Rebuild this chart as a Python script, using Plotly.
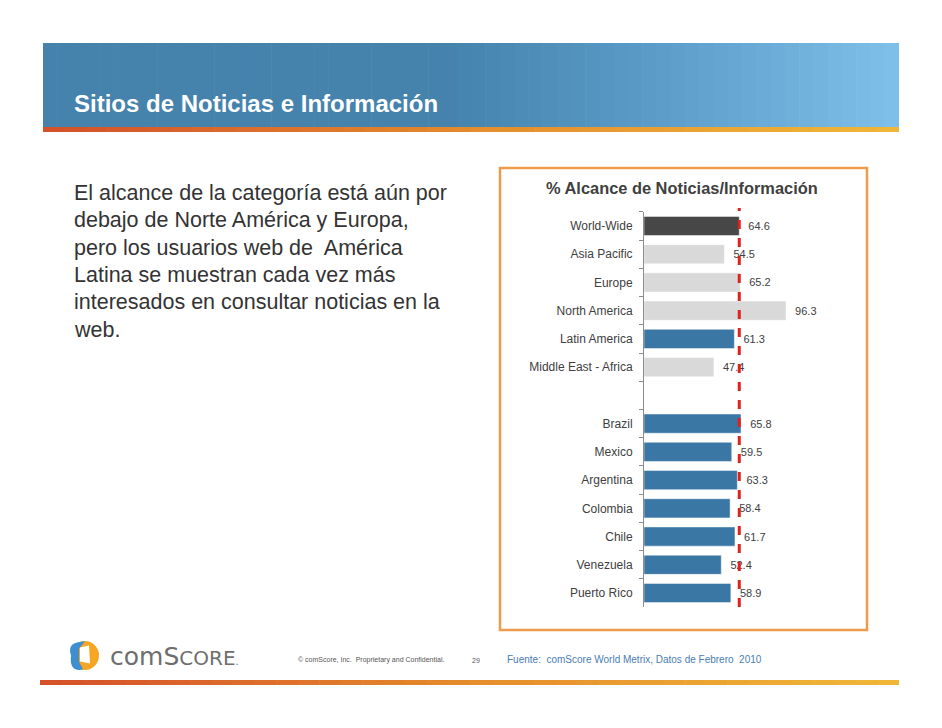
import plotly.graph_objects as go

# ---------------- data ----------------
categories = ["World-Wide", "Asia Pacific", "Europe", "North America", "Latin America",
              "Middle East - Africa", " ", "Brazil", "Mexico", "Argentina", "Colombia",
              "Chile", "Venezuela", "Puerto Rico"]
values = [64.6, 54.5, 65.2, 96.3, 61.3, 47.4, None, 65.8, 59.5, 63.3, 58.4, 61.7, 52.4, 58.9]
groups = ["world", "region", "region", "region", "latam", "region", "blank",
          "latam", "latam", "latam", "latam", "latam", "latam", "latam"]
reference_value = 64.6  # World-Wide reach

chart_title = "% Alcance de Noticias/Información"
slide_title = "Sitios de Noticias e Información"
body_lines = ["El alcance de la categoría está aún por",
              "debajo de Norte América y Europa,",
              "pero los usuarios web de  América",
              "Latina se muestran cada vez más",
              "interesados en consultar noticias en la",
              "web."]
source_text = "Fuente:  comScore World Metrix, Datos de Febrero  2010"
copyright_text = "© comScore, Inc.  Proprietary and Confidential."
page_number = "29"

# ---------------- styles ----------------
OFF = 8                      # page body margin
FW, FH = 942 - 2 * OFF, 728 - 2 * OFF
group_colors = {"world": "#474747", "region": "#d9d9d9", "latam": "#3b77a4", "blank": "rgba(0,0,0,0)"}
bar_colors = [group_colors[g] for g in groups]
FONT = "Liberation Sans, Arial, sans-serif"
TXT = "#404040"

def px(x):
    return (x - OFF) / FW

def py(y):
    return 1 - (y - OFF) / FH

# axis geometry (window pixel coordinates)
x_left, x_right = 644, 862
ppu = (786 - 644) / 96.3
x_max = (x_right - x_left) / ppu
row_top, row_bot = 226, 593
step = (row_bot - row_top) / (len(categories) - 1)
y_dom = [py(row_bot + step / 2), py(row_top - step / 2)]

fig = go.Figure()
fig.add_trace(go.Bar(
    y=categories, x=values, orientation="h",
    marker=dict(color=bar_colors, line=dict(color="rgba(255,255,255,0.6)", width=0.8)),
    width=0.68,
    text=[("" if v is None else f"{v:.1f}") for v in values],
    texttemplate="\u00a0\u00a0%{text}",
    textposition="outside",
    textfont=dict(family=FONT, size=11, color=TXT),
    cliponaxis=False,
    hoverinfo="skip",
))

shapes = []

def gradient_band(x0, x1, y0, y1, stops, n=60):
    for i in range(n):
        t = (i + 0.5) / n
        for j in range(len(stops) - 1):
            if stops[j][0] <= t <= stops[j + 1][0]:
                a, ca = stops[j]
                b, cb = stops[j + 1]
                f = (t - a) / (b - a) if b > a else 0
                c = tuple(int(ca[k] + (cb[k] - ca[k]) * f) for k in range(3))
                break
        xa = x0 + (x1 - x0) * i / n
        xb = x0 + (x1 - x0) * (i + 1) / n + 0.6
        shapes.append(dict(type="rect", xref="paper", yref="paper",
                           x0=px(xa), x1=px(min(xb, x1)), y0=py(y1), y1=py(y0),
                           fillcolor=f"rgb{c}", line=dict(width=0), layer="below"))

# header band
gradient_band(43, 899, 43, 127, [(0, (69, 130, 172)), (0.48, (69, 132, 174)),
                                  (0.75, (95, 160, 205)), (1, (127, 193, 233))])
# orange stripe under header
gradient_band(43, 899, 127, 132, [(0, (212, 80, 42)), (0.5, (230, 140, 45)), (1, (240, 184, 56))], n=40)
# bottom stripe
gradient_band(40, 899, 680, 685, [(0, (212, 80, 42)), (0.5, (230, 140, 45)), (1, (240, 184, 56))], n=40)

# chart frame
shapes.append(dict(type="rect", xref="paper", yref="paper",
                   x0=px(500), x1=px(867), y0=py(630), y1=py(168),
                   line=dict(color="#ef9b4e", width=2.5), fillcolor="rgba(0,0,0,0)", layer="below"))

# reference dashed line
shapes.append(dict(type="line", xref="x", yref="paper",
                   x0=reference_value, x1=reference_value, y0=py(607), y1=py(208),
                   line=dict(color="#e3211c", width=3, dash="dash")))

# logo icon
shapes.append(dict(type="circle", xref="paper", yref="paper",
                   x0=px(71), x1=px(99), y0=py(670), y1=py(641),
                   fillcolor="#f5a623", line=dict(width=0)))
lx, ly, r = 85, 655.5, 14
shapes.append(dict(type="path", xref="paper", yref="paper",
                   path=(f"M {px(lx)} {py(ly - r)} "
                         f"Q {px(lx - r - 5)} {py(ly - r)} {px(lx - r)} {py(ly)} "
                         f"Q {px(lx - r - 2)} {py(ly + r + 3)} {px(lx - 2)} {py(ly + r)} "
                         f"L {px(lx - 6)} {py(ly + 6)} L {px(lx - 6)} {py(ly - 7)} Z"),
                   fillcolor="#3d8fd1", line=dict(width=0)))
shapes.append(dict(type="path", xref="paper", yref="paper",
                   path=(f"M {px(lx - 5)} {py(ly - 8)} L {px(lx + 4)} {py(ly - 10)} "
                         f"L {px(lx + 5)} {py(ly + 8)} L {px(lx - 5)} {py(ly + 6)} Z"),
                   fillcolor="#ffffff", line=dict(width=0)))

annotations = []
annotations.append(dict(text=f"<b>{slide_title}</b>", x=px(72), y=py(103.5), xref="paper", yref="paper",
                        xanchor="left", yanchor="middle", showarrow=False,
                        font=dict(family=FONT, size=24, color="#ffffff")))
line_y0, line_step = 193, 27.3
for i, line in enumerate(body_lines):
    annotations.append(dict(text=line, x=px(72), y=py(line_y0 + i * line_step), xref="paper", yref="paper",
                            xanchor="left", yanchor="middle", showarrow=False,
                            font=dict(family=FONT, size=21.5, color="#333333")))
annotations.append(dict(text=f"<b>{chart_title}</b>", x=px(682), y=py(188), xref="paper", yref="paper",
                        xanchor="center", yanchor="middle", showarrow=False,
                        font=dict(family=FONT, size=16.4, color=TXT)))
annotations.append(dict(text=("<span style='font-size:25px'>com</span><span style='font-size:25px'>S</span>"
                              "<span style='font-size:20px'>CORE</span><span style='font-size:10px'>.</span>"),
                        x=px(108), y=py(656), xref="paper", yref="paper",
                        xanchor="left", yanchor="middle", showarrow=False,
                        font=dict(family="DejaVu Sans, sans-serif", size=25, color="#6e6e6e")))
annotations.append(dict(text=copyright_text, x=px(296), y=py(660), xref="paper", yref="paper",
                        xanchor="left", yanchor="middle", showarrow=False,
                        font=dict(family=FONT, size=7, color="#555555")))
annotations.append(dict(text=page_number, x=px(470), y=py(660), xref="paper", yref="paper",
                        xanchor="left", yanchor="middle", showarrow=False,
                        font=dict(family=FONT, size=7, color="#555555")))
annotations.append(dict(text=source_text, x=px(505), y=py(659), xref="paper", yref="paper",
                        xanchor="left", yanchor="middle", showarrow=False,
                        font=dict(family=FONT, size=10, color="#4a7db3")))

fig.update_layout(
    width=FW, height=FH,
    margin=dict(l=0, r=0, t=0, b=0),
    paper_bgcolor="#ffffff", plot_bgcolor="rgba(0,0,0,0)",
    showlegend=False,
    shapes=shapes, annotations=annotations,
    xaxis=dict(domain=[px(x_left), px(x_right)], range=[0, x_max], visible=False, fixedrange=True),
    yaxis=dict(domain=y_dom, type="category", autorange="reversed",
               showline=True, linecolor="#8c8c8c", linewidth=1,
               ticks="outside", ticklen=4, tickcolor="#8c8c8c", tickson="boundaries",
               ticklabelstandoff=8,
               tickfont=dict(family=FONT, size=12, color=TXT), showgrid=False, zeroline=False,
               fixedrange=True),
    bargap=0.32,
)

fig.write_html("out.html")
